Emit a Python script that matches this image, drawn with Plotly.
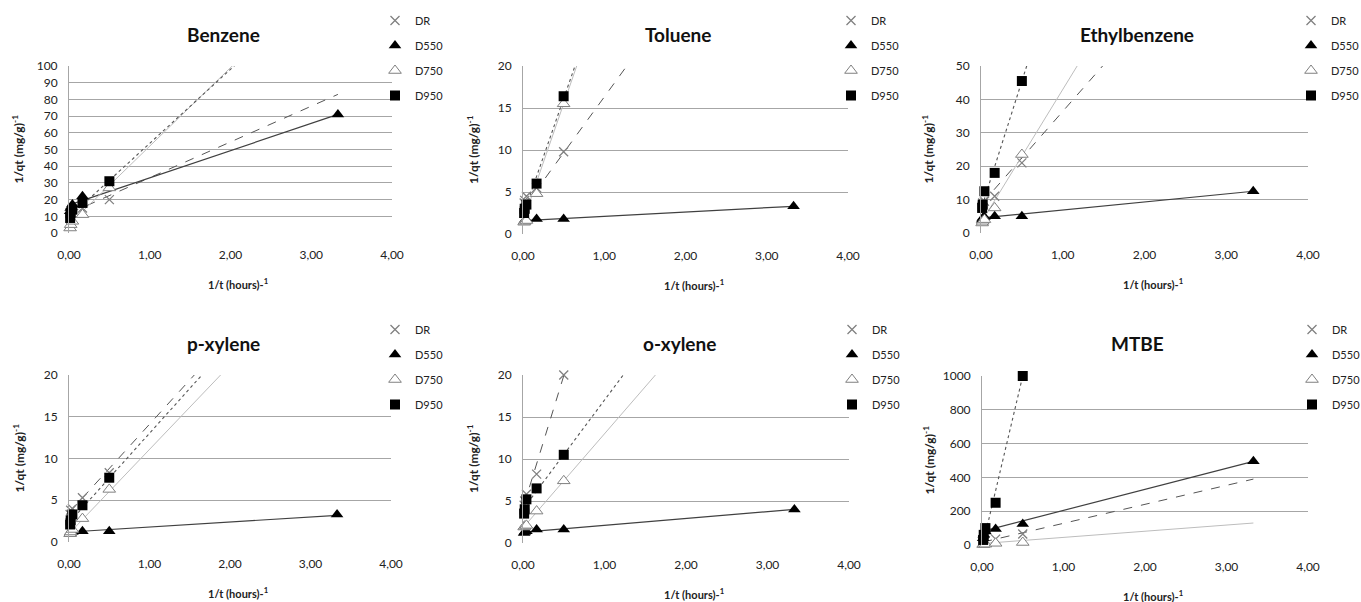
import plotly.graph_objects as go

W, H = 1361, 602

# ---------------- data ----------------
x_vals = [0.014, 0.021, 0.042, 0.167, 0.5, 3.33]
trend_x = [0.014, 3.33]
series_names = ["DR", "D550", "D750", "D950"]

compounds = ["Benzene", "Toluene", "Ethylbenzene", "p-xylene", "o-xylene", "MTBE"]
y_max = [100, 20, 50, 20, 20, 1000]
y_dtick = [10, 5, 10, 5, 5, 200]
x_tickvals = [0, 1, 2, 3, 4]
x_ticktext = ["0,00", "1,00", "2,00", "3,00", "4,00"]

benzene_DR = [12, 13, 14, 15, 20, None]
benzene_D550 = [13, 15, 17, 22, None, 71]
benzene_D750 = [3, 5, 7, 11, 27, None]
benzene_D950 = [9, 12, 14, 18, 31, None]

toluene_DR = [3.7, 4.0, 4.5, 5.5, 9.8, None]
toluene_D550 = [1.5, 1.6, 1.7, 1.8, 1.8, 3.3]
toluene_D750 = [1.4, 1.5, 1.6, 4.8, 15.5, None]
toluene_D950 = [2.5, 3.0, 3.5, 6.0, 16.4, None]

ethyl_DR = [8, 9, 9.5, 11, 21, None]
ethyl_D550 = [4, 4.5, 4.8, 5, 5, 12.5]
ethyl_D750 = [3, 3.5, 4, 7.5, 23.5, None]
ethyl_D950 = [7.5, 8.5, 12.5, 18, 45.5, None]

pxyl_DR = [3.3, 3.8, 4.0, 5.3, 8.3, None]
pxyl_D550 = [1.0, 1.1, 1.2, 1.3, 1.3, 3.3]
pxyl_D750 = [1.0, 1.2, 1.5, 2.8, 6.3, None]
pxyl_D950 = [2.1, 2.6, 3.3, 4.4, 7.7, None]

oxyl_DR = [4.5, 5.0, 5.8, 8.2, 20, None]
oxyl_D550 = [1.2, 1.3, 1.4, 1.6, 1.6, 4.0]
oxyl_D750 = [1.9, 2.0, 2.1, 3.8, 7.4, None]
oxyl_D950 = [3.5, 4.0, 5.2, 6.5, 10.5, None]

mtbe_DR = [15, 20, 25, 35, 65, None]
mtbe_D550 = [40, 60, 80, 95, 125, 495]
mtbe_D750 = [3, 4, 5, 10, 15, None]
mtbe_D950 = [30, 60, 100, 250, 1000, None]

# trendline end values (y at trend_x[0], y at trend_x[1])
benzene_trend = {"DR": [12, 83], "D550": [17, 71], "D750": [5.7, 161.5], "D950": [10, 157]}
toluene_trend = {"DR": [3.2, 47.3], "D550": [1.6, 3.3], "D750": [1.9, 94.7], "D950": [2.6, 94.8]}
ethyl_trend = {"DR": [8.9, 101.4], "D550": [4.5, 12.5], "D750": [3.6, 136], "D950": [8.1, 263]}
pxyl_trend = {"DR": [3.65, 38.8], "D550": [1.2, 3.2], "D750": [1.14, 34.6], "D950": [2.45, 38]}
oxyl_trend = {"DR": [4.6, 109], "D550": [1.3, 4.0], "D750": [1.96, 39.1], "D950": [4.2, 47.3]}
mtbe_trend = {"DR": [17.6, 390], "D550": [82, 495], "D750": [9, 130], "D950": [10, 6765]}

data = [
    [benzene_DR, benzene_D550, benzene_D750, benzene_D950],
    [toluene_DR, toluene_D550, toluene_D750, toluene_D950],
    [ethyl_DR, ethyl_D550, ethyl_D750, ethyl_D950],
    [pxyl_DR, pxyl_D550, pxyl_D750, pxyl_D950],
    [oxyl_DR, oxyl_D550, oxyl_D750, oxyl_D950],
    [mtbe_DR, mtbe_D550, mtbe_D750, mtbe_D950],
]
trends = [benzene_trend, toluene_trend, ethyl_trend, pxyl_trend, oxyl_trend, mtbe_trend]

# ---------------- styles ----------------
FONT = "Lato"
marker_style = {
    "DR": dict(symbol="x-thin", size=9, color="#808080", line=dict(width=1.3, color="#808080")),
    "D550": dict(symbol="triangle-up", size=11, color="#000000", line=dict(width=0)),
    "D750": dict(symbol="triangle-up", size=11, color="#ffffff", line=dict(width=1, color="#808080")),
    "D950": dict(symbol="square", size=10, color="#000000", line=dict(width=0)),
}
line_style = {
    "DR": dict(color="#555555", width=1, dash="dash"),
    "D550": dict(color="#404040", width=1.2, dash="solid"),
    "D750": dict(color="#bdbdbd", width=1, dash="solid"),
    "D950": dict(color="#555555", width=1.1, dash="dot"),
}

# plot areas in pixels: (left, right, top, bottom)
areas = [
    (69, 392, 66, 233),
    (523, 848, 66, 234),
    (981, 1308, 66, 233),
    (69, 391, 375, 542),
    (523, 849, 375, 543),
    (982, 1308, 376, 545),
]
col_off = [0, 455, 910, 0, 455, 910]
titles_pos = [(223, 34), (678, 34), (1137, 35), (223, 343), (679, 343), (1137, 343)]
legend_pos = [(375, 6), (831, 6), (1291, 6), (375, 315), (832, 315), (1292, 315)]

fig = go.Figure()
layout = dict(
    width=W, height=H, margin=dict(l=0, r=0, t=0, b=0, autoexpand=False),
    paper_bgcolor="white", plot_bgcolor="white",
    font=dict(family=FONT, color="#222222"),
    showlegend=True,
)
annotations = []

for i in range(6):
    k = "" if i == 0 else str(i + 1)
    xa, ya = "x" + k, "y" + k
    lg = "legend" + k
    L, R, T, B = areas[i]
    layout["xaxis" + k] = dict(
        domain=[L / W, R / W], anchor=ya, range=[0, 4], automargin=False,
        tickvals=x_tickvals, ticktext=x_ticktext, showgrid=False, zeroline=False,
        showline=False, ticks="", ticklabelstandoff=13,
        tickfont=dict(size=12, family=FONT, color="#222"),
    )
    layout["yaxis" + k] = dict(
        domain=[1 - B / H, 1 - T / H], anchor=xa, range=[0, y_max[i]], dtick=y_dtick[i],
        automargin=False,
        showgrid=True, gridcolor="#a6a6a6", gridwidth=1, zeroline=False,
        showline=True, linecolor="#a6a6a6", linewidth=1, ticks="", ticklabelstandoff=8,
        tickfont=dict(size=12, family=FONT, color="#222"),
    )
    lx, ly = legend_pos[i]
    layout[lg] = dict(
        x=lx / W, y=1 - ly / H, xanchor="left", yanchor="top",
        bgcolor="rgba(0,0,0,0)", font=dict(size=11, family=FONT, color="#222"),
        itemwidth=30, tracegroupgap=6, traceorder="grouped",
    )
    # trendlines
    for s in series_names:
        fig.add_trace(go.Scatter(
            x=trend_x, y=trends[i][s], mode="lines", line=line_style[s],
            xaxis=xa, yaxis=ya, showlegend=False, hoverinfo="skip",
        ))
    # markers
    for j, s in enumerate(series_names):
        ys = data[i][j]
        xs = [x for x, y in zip(x_vals, ys) if y is not None]
        yv = [y for y in ys if y is not None]
        fig.add_trace(go.Scatter(
            x=xs, y=yv, mode="markers", name=s, marker=marker_style[s],
            xaxis=xa, yaxis=ya, legend=lg, legendgroup=f"{i}_{s}", cliponaxis=False,
        ))
    tx, ty = titles_pos[i]
    annotations.append(dict(
        text="<b>%s</b>" % compounds[i], x=tx / W, y=1 - ty / H, xref="paper", yref="paper",
        xanchor="center", yanchor="middle",
        showarrow=False, font=dict(size=19, family=FONT, color="#111"),
    ))
    annotations.append(dict(
        text="<b>1/qt (mg/g)<sup>-1</sup></b>", x=(18 + col_off[i]) / W, y=1 - ((T + B) / 2) / H,
        xref="paper", yref="paper", showarrow=False, textangle=-90,
        xanchor="center", yanchor="middle",
        font=dict(size=12, family=FONT, color="#222"),
    ))
    annotations.append(dict(
        text="<b>1/t (hours)-<sup>1</sup></b>", x=((L + R) / 2 + 8) / W, y=1 - (B + 50) / H,
        xref="paper", yref="paper", showarrow=False,
        xanchor="center", yanchor="middle",
        font=dict(size=11, family=FONT, color="#222"),
    ))

layout["annotations"] = annotations
fig.update_layout(**layout)
fig.write_html("out.html")
